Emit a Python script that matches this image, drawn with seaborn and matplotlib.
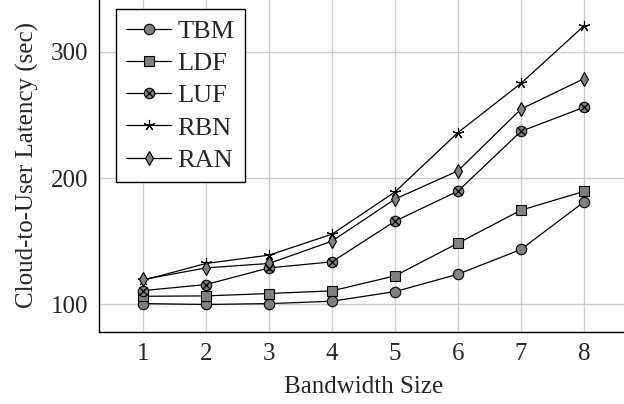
import numpy as np
import pandas as pd
import matplotlib
matplotlib.use("Agg")
import matplotlib.pyplot as plt
import seaborn as sns
from matplotlib.legend_handler import HandlerTuple

bandwidth = [1, 2, 3, 4, 5, 6, 7, 8]
tbm = [100.5, 99.8, 100.5, 102.4, 110, 123.8, 143.4, 181]
ldf = [106.3, 106.6, 108.5, 110.6, 122.5, 148.4, 174.5, 189.4]
luf = [110.8, 115.6, 128.8, 133.6, 165.8, 189.6, 237, 256]
rbn = [119, 132.3, 138.9, 155.5, 189, 236, 275, 320.5]
ran = [119.6, 128.8, 132.3, 150, 183.3, 205.7, 254.6, 278.7]

series = {"TBM": tbm, "LDF": ldf, "LUF": luf, "RBN": rbn, "RAN": ran}
df = pd.concat([pd.DataFrame({"Bandwidth": bandwidth, "Latency": v, "Method": k})
                for k, v in series.items()], ignore_index=True)

sns.set_style("whitegrid")
plt.rcParams['font.family'] = ['Liberation Serif', 'DejaVu Serif']

fig = plt.figure(figsize=(6.24, 4.04), dpi=100)
ax = fig.add_axes([99 / 624, 72 / 404, 529 / 624, 333.2 / 404])

gray = "#808080"
styles = {
    "TBM": dict(marker="o", markersize=7.5),
    "LDF": dict(marker="s", markersize=7.5),
    "LUF": dict(marker="o", markersize=7.5),
    "RBN": dict(marker=(5, 2, 0), markersize=8),
    "RAN": dict(marker="d", markersize=7),
}

handles = []
for name in series:
    sub = df[df["Method"] == name]
    st = styles[name]
    sns.lineplot(data=sub, x="Bandwidth", y="Latency", ax=ax, color="black",
                 linewidth=0.9, marker=st["marker"], markersize=st["markersize"],
                 markerfacecolor=gray, markeredgecolor="black", markeredgewidth=0.8,
                 legend=False, zorder=3)
    h = ax.lines[-1]
    if name == "LUF":
        # circle with a cross on top
        sns.lineplot(data=sub, x="Bandwidth", y="Latency", ax=ax, color="black",
                     linestyle="", marker="x", markersize=5.2, markeredgewidth=0.9,
                     markeredgecolor="black", legend=False, zorder=4)
        h = (h, ax.lines[-1])
    handles.append(h)

ax.set_xlim(0.3, 8.7)
ax.set_ylim(78, 342)
ax.set_xticks(bandwidth)
ax.set_yticks([100, 200, 300])
ax.grid(True, color="#cccccc", linewidth=1.0)
ax.tick_params(axis="both", labelsize=18, length=0, pad=8)
for s in ["left", "bottom"]:
    ax.spines[s].set_color("black")
    ax.spines[s].set_linewidth(1.0)
ax.set_xlabel("Bandwidth Size", fontsize=18, labelpad=8)
ax.set_ylabel("Cloud-to-User Latency (sec)", fontsize=18, labelpad=8)

leg = fig.legend(handles, list(series.keys()), loc="upper left",
                 bbox_to_anchor=(115.7 / 624, 1 - 9 / 404), borderaxespad=0,
                 fontsize=19, fancybox=False, framealpha=1, edgecolor="black",
                 handlelength=1.7, labelspacing=0.33, handletextpad=0.25,
                 borderpad=0.4, handler_map={tuple: HandlerTuple(ndivide=1)})
leg.get_frame().set_linewidth(1.0)

fig.savefig("out.png", dpi=100)
